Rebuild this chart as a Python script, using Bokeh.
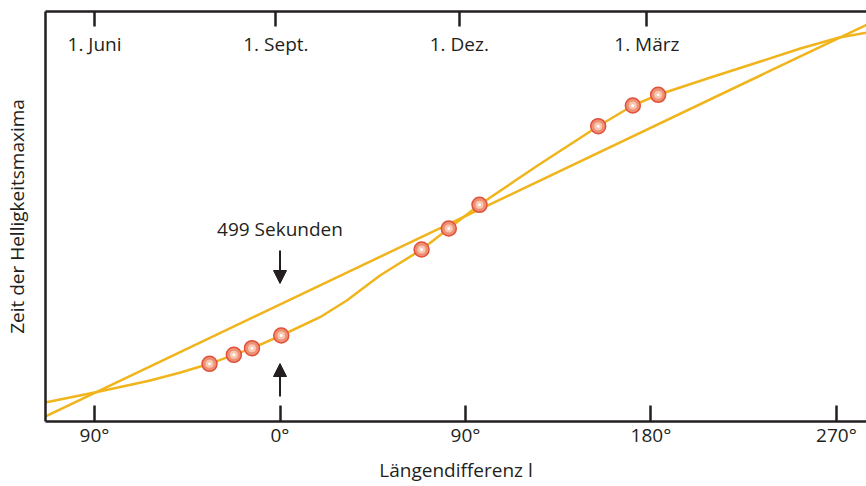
from bokeh.plotting import figure
from bokeh.models import Range1d, LinearAxis, FixedTicker, Arrow, NormalHead, ColumnDataSource
from bokeh.core.properties import value
from bokeh.embed import file_html
from bokeh.resources import INLINE

# ---- data ----
# bottom axis: longitude difference l (degrees)
lon_ticks = [-90, 0, 90, 180, 270]
lon_labels = ["90°", "0°", "90°", "180°", "270°"]
# top axis: dates
date_ticks = [-90, -2, 87, 178]
date_labels = ["1. Juni", "1. Sept.", "1. Dez.", "1. März"]

# straight (uniform) line
mean_x = [-114, 285]
mean_y = [5, 397]

# observed curve (times of brightness maxima)
curve_x = [-114, -90, -76.4, -63, -48.3, -34.2, -22.4, -13.6, 0.6, 19.4, 32.4, 48.5, 68.7,
           81.9, 96.8, 125.4, 154.4, 171.2, 183.5, 208.9, 233.1, 252.5, 271.4, 285]
curve_y = [19, 29, 35, 41, 49, 57.7, 66.7, 73.3, 86, 104.3, 121, 146, 172,
           193, 216.7, 256.5, 295.3, 316, 326.7, 344, 360, 373, 384, 389]

# measured points
obs_x = [-34.2, -22.4, -13.6, 0.6, 68.7, 81.9, 96.8, 154.4, 171.2, 183.5]
obs_y = [57.7, 66.7, 73.3, 86, 172, 193, 216.7, 295.3, 316, 326.7]

FONT = "Open Sans"
FS = "19px"
TXT = "#231f20"
LINE = "#f0b41c"

p = figure(width=866, height=486, output_backend="svg", toolbar_location=None,
           x_range=Range1d(-113.8, 284.6), y_range=Range1d(0, 410),
           x_axis_location=None, y_axis_location=None,
           min_border_left=45, min_border_right=0, min_border_top=11, min_border_bottom=65)
p.outline_line_color = None
p.xgrid.visible = False
p.ygrid.visible = False
p.background_fill_color = "white"
p.border_fill_color = "white"

# bottom axis
bx = LinearAxis(ticker=FixedTicker(ticks=lon_ticks),
                major_label_overrides={t: s for t, s in zip(lon_ticks, lon_labels)},
                axis_label="Längendifferenz l")
bx.major_tick_in = 16
bx.major_tick_out = 0
bx.minor_tick_line_color = None
bx.axis_line_width = 2.5
bx.axis_line_color = TXT
bx.major_tick_line_width = 2.5
bx.major_tick_line_color = TXT
bx.major_label_text_font = FONT
bx.major_label_text_font_size = FS
bx.major_label_text_color = TXT
bx.major_label_standoff = 0
bx.axis_label_text_font = FONT
bx.axis_label_text_font_size = FS
bx.axis_label_text_font_style = "normal"
bx.axis_label_text_color = TXT
bx.axis_label_standoff = 6
p.add_layout(bx, "below")

# top axis (ticks only; labels drawn inside)
tx = LinearAxis(ticker=FixedTicker(ticks=date_ticks))
tx.major_tick_in = 15
tx.major_tick_out = 0
tx.minor_tick_line_color = None
tx.axis_line_width = 2.5
tx.axis_line_color = TXT
tx.major_tick_line_width = 2.5
tx.major_tick_line_color = TXT
tx.major_label_text_font_size = "0px"
tx.major_label_standoff = 0
p.add_layout(tx, "above")

# left axis
ly = LinearAxis(ticker=FixedTicker(ticks=[]), axis_label="Zeit der Helligkeitsmaxima")
ly.major_tick_out = 0
ly.major_tick_in = 0
ly.minor_tick_line_color = None
ly.axis_line_width = 2.5
ly.axis_line_color = TXT
ly.axis_label_text_font = FONT
ly.axis_label_text_font_size = FS
ly.axis_label_text_font_style = "normal"
ly.axis_label_text_color = TXT
ly.axis_label_standoff = 16
ly.major_label_text_font_size = "0px"
p.add_layout(ly, "left")

# lines
p.line(mean_x, mean_y, line_color=LINE, line_width=2.5)
p.line(curve_x, curve_y, line_color=LINE, line_width=2.5, line_join="round")

# points
p.scatter(obs_x, obs_y, size=15, fill_color="#ef8f73", line_color="#e0503a", line_width=1.5)
p.scatter(obs_x, obs_y, size=8, fill_color="#f9c6b0", line_color=None)
p.scatter(obs_x, obs_y, size=3, fill_color="white", line_color=None)

# month labels inside the frame
src = ColumnDataSource(dict(x=date_ticks, y=[378] * len(date_ticks), t=date_labels))
p.text(x="x", y="y", text="t", source=src, text_align="center", text_baseline="middle",
       text_font=value(FONT), text_font_size=FS, text_color=TXT)

# annotation
p.text(x=[0], y=[193], text=["499 Sekunden"], text_align="center", text_baseline="middle",
       text_font=value(FONT), text_font_size=FS, text_color=TXT)
p.add_layout(Arrow(end=NormalHead(size=13, fill_color=TXT, line_color=TXT, line_width=1),
                   x_start=0, y_start=171, x_end=0, y_end=138, line_width=2, line_color=TXT))
p.add_layout(Arrow(end=NormalHead(size=13, fill_color=TXT, line_color=TXT, line_width=1),
                   x_start=0, y_start=25, x_end=0, y_end=58, line_width=2, line_color=TXT))

open("out.html", "w").write(file_html(p, INLINE))
